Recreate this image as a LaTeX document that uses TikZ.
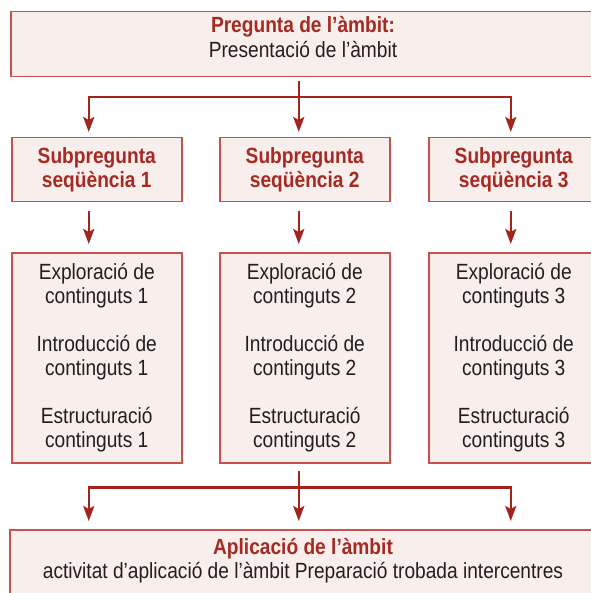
\documentclass[tikz,border=0pt]{standalone}
\usepackage{fontspec}
\setmainfont{Liberation Sans}[FakeStretch=0.87]
\usetikzlibrary{arrows.meta,calc}
\definecolor{boxline}{HTML}{C8514C}
\definecolor{arrowred}{HTML}{A3241D}
\definecolor{titlered}{HTML}{A52A24}
\definecolor{boxfill}{HTML}{F8EEEB}
\definecolor{bodytext}{HTML}{231F20}
\begin{document}
\begin{tikzpicture}[x=1pt,y=-1pt,
  box/.style={draw=boxline, fill=boxfill, line width=1.5pt, inner sep=0pt, anchor=north west, align=center},
  arr/.style={draw=arrowred, line width=2.3pt, -{Stealth[length=15pt,width=11pt,inset=3pt]}},
  ln/.style={draw=arrowred, line width=2.3pt},
  ttl/.style={font=\bfseries\fontsize{22}{24}\selectfont, text=titlered},
  bdy/.style={font=\fontsize{22}{24}\selectfont, text=bodytext},
  txt/.style={align=center, inner sep=0pt, anchor=base, font=\fontsize{22}{24}\selectfont}]
\useasboundingbox (0,0) rectangle (590,593);
\newcommand{\ttlf}{\color{titlered}\bfseries\fontsize{22}{24}\selectfont}
\newcommand{\bdyf}{\color{bodytext}\mdseries\fontsize{22}{24}\selectfont}
% top box
\node[box, minimum width=600pt, minimum height=65pt] (top) at (10,11) {};
\node[txt] (topt) at (303,58)
  {{\ttlf Pregunta de l’àmbit:}\\[1pt]{\bdyf Presentació de l’àmbit}};
% subquestion boxes
\node[box, ttl, minimum width=170pt, minimum height=64pt] (s1) at (11,137) {Subpregunta\\seqüència 1};
\node[box, ttl, minimum width=170pt, minimum height=64pt] (s2) at (219,137) {Subpregunta\\seqüència 2};
\node[box, ttl, minimum width=170pt, minimum height=64pt] (s3) at (428,137) {Subpregunta\\seqüència 3};
% content boxes
\node[box, bdy, minimum width=170pt, minimum height=210pt] (c1) at (11,252)
  {Exploració de\\continguts 1\\[24pt]Introducció de\\continguts 1\\[24pt]Estructuració\\continguts 1};
\node[box, bdy, minimum width=170pt, minimum height=210pt] (c2) at (219,252)
  {Exploració de\\continguts 2\\[24pt]Introducció de\\continguts 2\\[24pt]Estructuració\\continguts 2};
\node[box, bdy, minimum width=170pt, minimum height=210pt] (c3) at (428,252)
  {Exploració de\\continguts 3\\[24pt]Introducció de\\continguts 3\\[24pt]Estructuració\\continguts 3};
% bottom box
\node[box, minimum width=600pt, minimum height=80pt] (bot) at (9,529) {};
\node[txt] (bott) at (303,578)
  {{\ttlf Aplicació de l’àmbit}\\{\bdyf activitat d’aplicació de l’àmbit Preparació trobada intercentres}};
% top connectors
\coordinate (hubT) at ($(s2.north)+(-6,-40)$);
\draw[ln] (hubT |- top.south) ++(0,4) -- (hubT);
\draw[ln] ($(hubT -| s1.north)+(-9.15,0)$) -- ($(hubT -| s3.north)+(-1.85,0)$);
\draw[arr] ($(hubT -| s1.north)+(-8,0)$) -- ($(s1.north)+(-8,-5)$);
\draw[arr] (hubT) -- ($(s2.north)+(-6,-5)$);
\draw[arr] ($(hubT -| s3.north)+(-3,0)$) -- ($(s3.north)+(-3,-5)$);
% middle connectors
\draw[arr] ($(s1.south)+(-8,9)$) -- ($(c1.north)+(-8,-8)$);
\draw[arr] ($(s2.south)+(-6,9)$) -- ($(c2.north)+(-6,-8)$);
\draw[arr] ($(s3.south)+(-3,9)$) -- ($(c3.north)+(-3,-8)$);
% bottom connectors
\coordinate (hubB) at ($(c2.south)+(-6,24)$);
\draw[ln] ($(c2.south)+(-6,7)$) -- (hubB);
\draw[ln] ($(hubB -| c1.south)+(-9.15,0)$) -- ($(hubB -| c3.south)+(-1.85,0)$);
\draw[arr] ($(hubB -| c1.south)+(-8,0)$) -- ($(c1.south |- bot.north)+(-8,-8)$);
\draw[arr] (hubB) -- ($(c2.south |- bot.north)+(-6,-8)$);
\draw[arr] ($(hubB -| c3.south)+(-3,0)$) -- ($(c3.south |- bot.north)+(-3,-8)$);
\end{tikzpicture}
\end{document}
